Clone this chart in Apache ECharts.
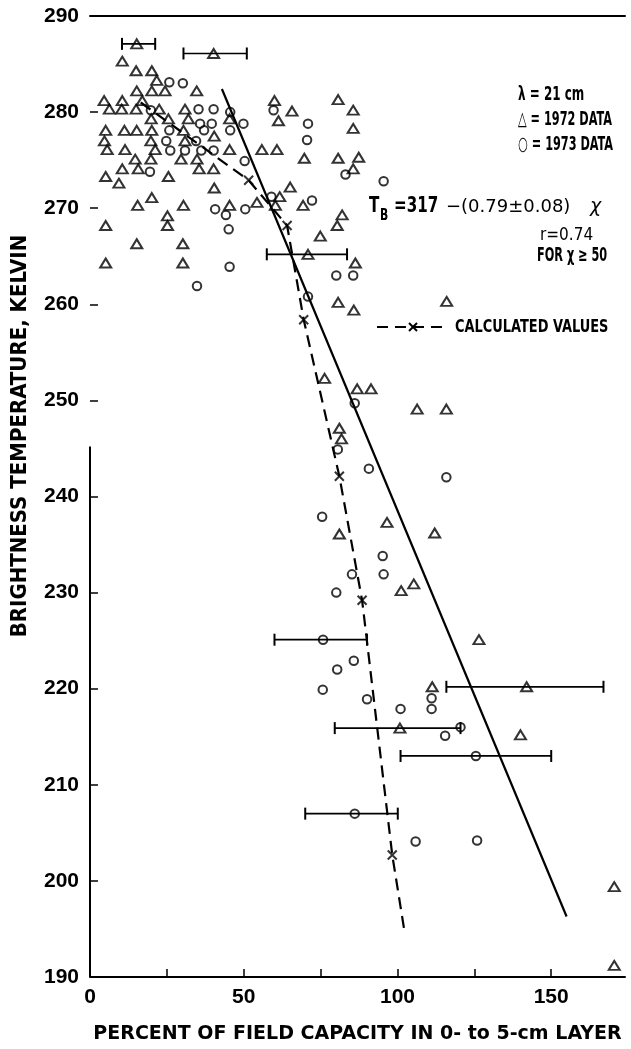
<!DOCTYPE html>
<html><head><meta charset="utf-8">
<script src="https://cdn.jsdelivr.net/npm/echarts@6/dist/echarts.min.js"></script>
<style>html,body{margin:0;padding:0;background:#fff}#c{width:631px;height:1049px}</style>
</head><body><div id="c"></div>
<script>
// ---- data (percent field capacity, brightness temperature K) ----
const xTickValues = [0, 25, 50, 75, 100, 125, 150];
const xLabelValues = [0, 50, 100, 150];
const yTickLabels = [190, 200, 210, 220, 230, 240, 250, 260, 270, 280, 290];

const data1972 = [
  [15.2,287.1],[40.2,286.1],[10.5,285.3],[15.0,284.3],[20.1,284.3],[21.7,283.3],
  [15.2,282.2],[20.1,282.2],[24.4,282.2],[34.7,282.2],
  [4.6,281.2],[10.5,281.2],[17.0,281.2],[6.3,280.3],[10.3,280.3],[15.0,280.3],[22.5,280.3],[30.9,280.3],
  [60.0,281.2],[61.3,279.1],[65.7,280.1],[80.7,281.3],[85.6,280.2],[85.6,278.3],
  [19.9,279.3],[25.5,279.3],[32.0,279.3],[45.4,279.3],
  [5.1,278.1],[11.2,278.1],[15.2,278.1],[20.1,278.1],[30.4,278.1],[40.4,277.5],
  [4.7,277.0],[19.8,277.0],[30.9,277.0],
  [5.6,276.1],[11.4,276.1],[21.2,276.1],[45.4,276.1],[55.9,276.1],[60.8,276.1],
  [14.7,275.1],[19.8,275.1],[29.6,275.1],[34.8,275.1],
  [69.7,275.2],[80.7,275.2],[87.4,275.3],[85.6,274.1],
  [10.5,274.1],[15.7,274.1],[35.5,274.1],[40.2,274.1],
  [5.1,273.3],[25.5,273.3],[9.4,272.6],[40.4,272.1],[65.1,272.2],
  [20.1,271.1],[61.7,271.2],
  [15.5,270.3],[30.4,270.3],[45.4,270.3],[54.3,270.6],[60.3,270.3],[69.3,270.3],
  [25.2,269.2],[82.0,269.3],[25.2,268.2],[5.1,268.2],[80.4,268.2],[74.9,267.1],
  [15.2,266.3],[30.2,266.3],[5.1,264.3],[30.2,264.3],[86.3,264.3],[70.9,265.2],
  [80.7,260.2],[85.8,259.4],[116.0,260.3],
  [76.3,252.3],[86.9,251.2],[91.4,251.2],[106.4,249.1],[115.9,249.1],
  [81.1,247.1],[81.8,246.0],
  [96.6,237.3],[81.1,236.1],[112.1,236.2],[101.2,230.2],[105.3,230.9],
  [126.5,225.1],[111.3,220.2],[142.0,220.2],[100.8,215.9],[140.0,215.2],
  [170.5,199.4],[170.5,191.2]
];
const data1973 = [
  [25.8,283.1],[30.2,283.0],[19.8,280.2],[35.3,280.3],[40.2,280.3],[45.6,280.0],
  [35.8,278.8],[39.6,278.8],[49.9,278.8],[25.8,278.1],[37.1,278.1],[45.6,278.1],
  [24.8,277.0],[34.5,277.0],[26.1,276.0],[30.9,276.0],[36.2,276.0],[40.2,276.0],
  [50.3,274.9],[19.5,273.8],[40.7,269.9],[44.2,269.3],[50.5,269.9],[59.0,271.2],
  [45.1,267.8],[45.4,263.9],[34.8,261.9],
  [59.7,280.2],[70.9,278.8],[70.6,277.1],[83.1,273.5],[95.5,272.8],[72.2,270.8],
  [80.1,263.0],[85.6,263.0],
  [70.9,260.8],[86.1,249.7],[80.6,244.9],[90.7,242.9],[115.9,242.0],
  [75.5,237.9],[95.2,233.8],[85.2,231.9],[95.5,231.9],[80.1,230.0],[75.8,225.1],
  [85.8,222.9],[80.4,222.0],[75.7,219.9],[90.1,218.9],[101.0,217.9],
  [111.1,219.0],[111.1,217.9],[120.5,216.0],[115.5,215.1],
  [125.5,213.0],[86.1,207.0],[105.9,204.1],[125.9,204.2]
];
// error bars: [x, y, low, high]
const errBars = [
  [15.2,287.1,10.4,21.2],[40.2,286.1,30.4,51.0],[70.9,265.2,57.5,83.6],
  [75.8,225.1,60.0,90.1],[142.0,220.2,115.9,167.0],[100.8,215.9,79.6,120.5],
  [125.5,213.0,101.0,150.0],[86.1,207.0,70.0,100.1]
];
const calcPoints = [[51.6,272.9],[64.1,268.2],[69.5,258.4],[81.1,242.1],[88.5,229.2],[98.3,202.7]];
const calcLine = [[16.5,281.0],[51.6,272.9],[64.1,268.2],[69.5,258.4],[81.1,242.1],[88.5,229.2],[98.3,202.7],[102.4,194.5]];
const regLine = [[42.9,282.4],[155.0,196.3]];
const yAxisStub = [[0,190],[0,245.2]];

const chart = echarts.init(document.getElementById('c'), null, {renderer:'canvas'});
const COND = "'DejaVu Sans Condensed','DejaVu Sans',sans-serif";
const TICKF = "'Liberation Sans',Arial,sans-serif";
const XSYM = 'path://M0,0L10,10M10,0L0,10';

function renderErr(params, api){
  const y = api.value(1), lo = api.value(2), hi = api.value(3);
  const p1 = api.coord([lo, y]), p2 = api.coord([hi, y]);
  const h = 6;
  return {type:'group', children:[
    {type:'line', shape:{x1:p1[0],y1:p1[1],x2:p2[0],y2:p2[1]}, style:{stroke:'#000', lineWidth:1.7}},
    {type:'line', shape:{x1:p1[0],y1:p1[1]-h,x2:p1[0],y2:p1[1]+h}, style:{stroke:'#000',lineWidth:2}},
    {type:'line', shape:{x1:p2[0],y1:p2[1]-h,x2:p2[0],y2:p2[1]+h}, style:{stroke:'#000',lineWidth:2}}
  ]};
}
function txt(x, y, text, font, sx, align){
  return {type:'text', x:x, y:y, scaleX:sx||1,
    style:{text:text, x:0, y:0, fill:'#000', font:font, textAlign:align||'left', textVerticalAlign:'middle'}};
}

const option = {
  backgroundColor:'#fff',
  animation:false,
  grid:{left:90, right:6, top:16, bottom:71},
  xAxis:[{
    type:'value', min:0, max:174,
    axisLine:{show:true, lineStyle:{color:'#000', width:2}},
    axisTick:{show:true, inside:true, length:8, customValues:xTickValues, lineStyle:{color:'#000', width:1.5}},
    axisLabel:{customValues:xLabelValues, margin:10, color:'#000', fontFamily:TICKF, fontWeight:'bold', fontSize:21},
    splitLine:{show:false},
    name:'PERCENT OF FIELD CAPACITY IN 0- to 5-cm LAYER',
    nameLocation:'middle', nameGap:48,
    nameTextStyle:{color:'#000', fontFamily:"'DejaVu Sans',sans-serif", fontWeight:'bold', fontSize:19}
  },{
    type:'value', min:0, max:174, position:'top',
    axisLine:{show:true, lineStyle:{color:'#000', width:2}},
    axisTick:{show:false}, axisLabel:{show:false}, splitLine:{show:false}
  }],
  yAxis:{
    type:'value', min:190, max:290, interval:10,
    axisLine:{show:false},
    axisTick:{show:true, inside:true, length:8, lineStyle:{color:'#000', width:1.5}},
    axisLabel:{margin:11, color:'#000', fontFamily:TICKF, fontWeight:'bold', fontSize:21,
      formatter:v => yTickLabels.includes(v) ? String(v) : ''},
    splitLine:{show:false}
  },
  series:[
    {type:'line', data:yAxisStub, symbol:'none', lineStyle:{color:'#000', width:2}, z:1, silent:true},
    {type:'custom', data:errBars, renderItem:renderErr, encode:{x:[2,3], y:1}, z:2, silent:true},
    {type:'line', data:regLine, symbol:'none', lineStyle:{color:'#000', width:2.2}, z:3},
    {type:'line', data:calcLine, symbol:'none', lineStyle:{color:'#000', width:2.2, type:[12,7]}, z:3},
    {type:'scatter', data:calcPoints, symbol:XSYM, symbolSize:9,
      itemStyle:{color:'none', borderColor:'#000', borderWidth:2}, z:4},
    {type:'scatter', data:data1972, symbol:'triangle', symbolSize:[11,9],
      itemStyle:{color:'rgba(0,0,0,0)', borderColor:'#000', borderWidth:2}, z:5},
    {type:'scatter', data:data1973, symbol:'circle', symbolSize:8.5,
      itemStyle:{color:'rgba(0,0,0,0)', borderColor:'#000', borderWidth:2}, z:5}
  ],
  graphic:[
    {type:'text', x:20, y:436, rotation:Math.PI/2,
      style:{text:'BRIGHTNESS TEMPERATURE, KELVIN', x:0, y:0, fill:'#000', font:"bold 22px "+COND,
        textAlign:'center', textVerticalAlign:'middle'}},
    txt(518, 95, 'λ = 21 cm', "bold 19px "+COND, 0.7),
    txt(518, 120, '△ = 1972 DATA', "bold 19px "+COND, 0.66),
    txt(518, 145, '○ = 1973 DATA', "bold 19px "+COND, 0.66),
    txt(369, 207, 'T', "bold 21px "+COND, 0.8),
    txt(380, 216, 'B', "bold 15px "+COND, 0.8),
    txt(394, 207, '=317', "bold 21px "+COND, 0.8),
    txt(446, 207, '−(0.79±0.08)', "18px 'DejaVu Sans',sans-serif", 1),
    txt(590, 207, 'χ', "italic 19px 'DejaVu Sans',sans-serif", 1),
    txt(540, 236, 'r=0.74', "17px 'DejaVu Sans',sans-serif", 0.9),
    txt(537, 256, 'FOR χ ≥ 50', "bold 19px "+COND, 0.66),
    {type:'line', shape:{x1:377,y1:327,x2:447,y2:327}, style:{stroke:'#000', lineWidth:2, lineDash:[11,7]}},
    {type:'line', shape:{x1:409,y1:323,x2:417,y2:331}, style:{stroke:'#000', lineWidth:2}},
    {type:'line', shape:{x1:417,y1:323,x2:409,y2:331}, style:{stroke:'#000', lineWidth:2}},
    txt(455, 327, 'CALCULATED VALUES', "bold 18px "+COND, 0.8)
  ]
};
chart.setOption(option);
</script>
</body></html>
